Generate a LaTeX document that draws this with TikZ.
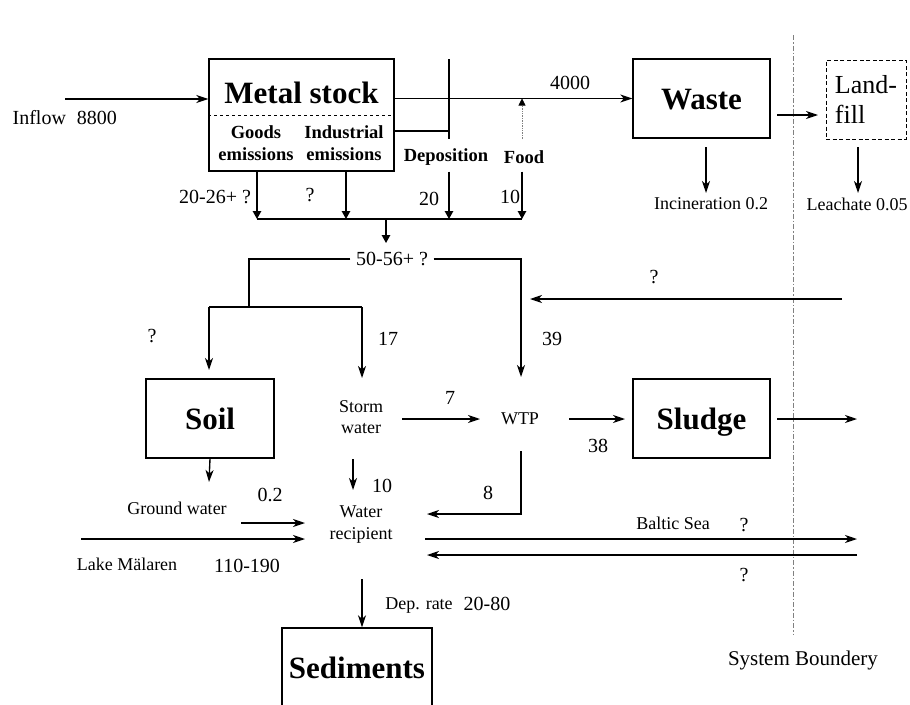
\documentclass[tikz,border=0pt]{standalone}
\usepackage{fontspec}
\setmainfont{Liberation Serif}
\usetikzlibrary{arrows.meta,calc,positioning}

\begin{document}
\begin{tikzpicture}[x=1pt,y=-1pt, line width=1.35pt,
  every node/.style={font=\fontsize{18}{21}\selectfont, inner sep=0pt},
  num/.style={font=\fontsize{20}{22}\selectfont},
  box/.style={draw, inner sep=0pt, text height=21pt, text depth=0pt,
              font=\bfseries\fontsize{31}{33}\selectfont},
  sub/.style={font=\bfseries\fontsize{18.5}{22}\selectfont, align=center},
  flow/.style={-{Stealth[length=12pt,width=8pt,inset=3.5pt]}},
  drop/.style={-{Triangle[length=8pt,width=8.5pt]}}]
  \clip (0,0) rectangle (910,704);

  % boxes
  \node[box, minimum width=185pt, minimum height=112pt] (stock) at (301.5,115) {};
  \node[font=\bfseries\fontsize{31}{33}\selectfont] (stockname) at (301.5,93) {Metal stock};
  \draw[dashed, line width=0.8pt] (stock.west) -- (stock.east);
  \node[sub] (goods) at (256,143) {Goods\\emissions};
  \node[sub] (indus) at (344,143) {Industrial\\emissions};
  \node[box, minimum width=137pt, minimum height=79pt] (waste) at (701.5,98.5) {Waste};
  \node[draw, dash pattern=on 4pt off 2.5pt, line width=1pt, align=left,
        minimum width=80pt, minimum height=79pt, font=\fontsize{26}{30}\selectfont]
        (landfill) at (866,99.5) {Land-\\fill};
  \node[box, minimum width=128pt, minimum height=79pt] (soil) at (210,418.5) {Soil};
  \node[box, minimum width=137pt, minimum height=79pt] (sludge) at (701.5,418.5) {Sludge};
  \node[box, minimum width=150pt, minimum height=80pt] (sed) at (357,668) {Sediments};

  % labels
  \node[num, anchor=west] (inflow) at (12,118) {Inflow\hspace{11pt}8800};
  \node[num] (l4000) at (570,83) {4000};
  \node[sub] (depo) at (446,157) {Deposition};
  \node[sub] (food) at (524,157) {Food};
  \node (incin) at (711,204) {Incineration 0.2};
  \node (leach) at (857,204) {Leachate 0.05};
  \node[num] (eg) at (215,197) {20-26+ ?};
  \node[num] (ei) at (310,195) {?};
  \node[num] (ed) at (429,199) {20};
  \node[num] (ef) at (510,197) {10};
  \node[num, inner xsep=5pt] (total) at (392,259) {50-56+ ?};
  \node[num] (qsoil) at (152,336) {?};
  \node[num] (n17) at (388,339) {17};
  \node[num] (n39) at (552,339) {39};
  \node[num] (qext) at (654,277) {?};
  \node[align=center] (storm) at (361,417) {Storm\\water};
  \node (wtp) at (520,419) {WTP};
  \node[num] (n7) at (450,398) {7};
  \node[num] (n38) at (598,446) {38};
  \node[num] (n8) at (488,493) {8};
  \node (baltic) at (673,523) {Baltic Sea};
  \node[num] (qout) at (744,525) {?};
  \node[num] (qin) at (744,575) {?};
  \node (gw) at (177,508) {Ground water};
  \node[num] (n02) at (270,495) {0.2};
  \node (lake) at (127,564) {Lake Mälaren};
  \node[num] (n110) at (247,566) {110-190};
  \node[num] (n10) at (382,486) {10};
  \node[align=center, font=\fontsize{18}{22}\selectfont] (recip) at (361,525) {Water\\recipient};
  \node (deprate) at (419,606) {Dep. rate};
  \node[num] (n2080) at (487,604) {20-80};
  \node[font=\fontsize{21}{23}\selectfont] (sysb) at (803,660) {System Boundery};

  % free ends of the flows
  \foreach \n/\x/\y in {inA/65/99, depT/449/59, depM/449/131, depB/449/139, foodB/522/139,
      wlA/777/115, wlB/818/115, incA/706/147, incB/706/193, leaA/858/147, leaB/858/193,
      bndT/793/35, bndB/793/635, colL/257/219, colA/346/219, colB/449/219, colR/522/219,
      colM/386/219, totB/386/243, splB/249/307, brL/209/307, brR/362/307, soilT/209/370,
      stormT/362/378, wtpT/521/377, extA/842/299, extB/530/299, swA/402/419, swB/480/419,
      wsA/569/419, wsB/625/419, slA/777/419, slB/857/419, wrA/521/451, wrB/427/514,
      btA/425/539, btB/857/539, bfA/857/555, bfB/427/555, sgB/209/482,
      gwA/241/523, gwB/305/523, lkA/81/539, lkB/305/539, srA/353/459, srB/353/490, dpA/362/579}
    \coordinate (\n) at (\x,\y);

  % flows
  \draw[flow] (inA) -- (inA -| stock.west);
  \draw[flow] (waste.west -| stock.east) -- (waste.west);
  \draw (depT) -- (depB);
  \draw (stock.east |- depM) -- (depM);
  \draw[-{Triangle[length=7pt,width=7pt,color=black]}, gray, densely dotted, line width=0.7pt]
    (foodB) -- (foodB |- waste.west);
  \draw[flow] (wlA) -- (wlB);
  \draw[flow] (incA) -- (incB);
  \draw[flow] (leaA) -- (leaB);
  \draw[gray, line width=0.9pt, dash pattern=on 5pt off 2pt on 1.5pt off 2pt] (bndT) -- (bndB);
  \foreach \c in {colL,colA,colB,colR}
    \draw[drop] (\c |- stock.south) -- (\c);
  \draw (colL) -- (colR);
  \draw[drop] (colM) -- (totB);
  \draw (total.west) -| (splB);
  \draw (brL) -- (brR);
  \draw[flow] (brL) -- (soilT);
  \draw[flow] (brR) -- (stormT);
  \draw[flow] (total.east) -| (wtpT);
  \draw[flow] (extA) -- (extB);
  \draw[flow] (swA) -- (swB);
  \draw[flow] (wsA) -- (wsB);
  \draw[flow] (slA) -- (slB);
  \draw[flow] (wrA) |- (wrB);
  \draw[flow] (btA) -- (btB);
  \draw[flow] (bfA) -- (bfB);
  \draw[flow] (soil.south) -- (sgB);
  \draw[flow] (gwA) -- (gwB);
  \draw[flow] (lkA) -- (lkB);
  \draw[flow] (srA) -- (srB);
  \draw[flow] (dpA) -- (dpA |- sed.north);
\end{tikzpicture}
\end{document}
